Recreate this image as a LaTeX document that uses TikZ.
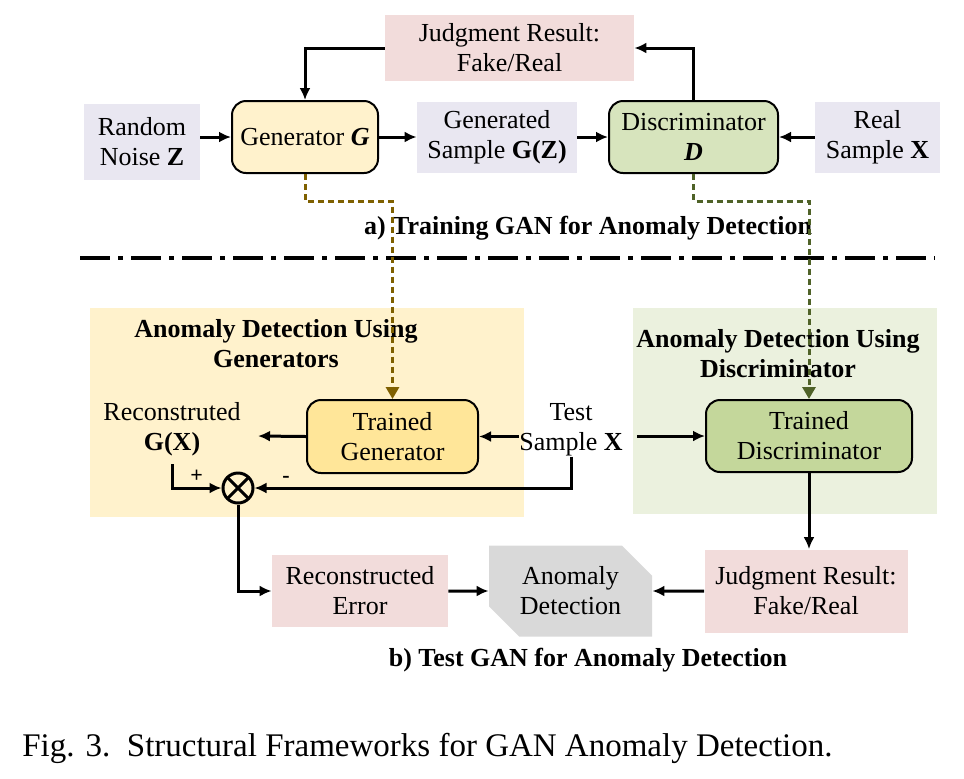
\documentclass[tikz,border=0pt]{standalone}
\usepackage{fontspec}
\setmainfont{Liberation Serif}
\usepackage{tikz}
\usetikzlibrary{shapes,arrows,arrows.meta,positioning}

\definecolor{lavbg}{HTML}{E9E7F1}
\definecolor{pinkbg}{HTML}{F2DCDB}
\definecolor{genfill}{HTML}{FFF2CC}
\definecolor{discfill}{HTML}{D7E4BD}
\definecolor{tgenfill}{HTML}{FFE699}
\definecolor{tdiscfill}{HTML}{C4D79B}
\definecolor{yellowbg}{HTML}{FFF2CC}
\definecolor{greenbg}{HTML}{EBF1DE}
\definecolor{greybg}{HTML}{D9D9D9}
\definecolor{dashbrown}{HTML}{7F6000}
\definecolor{dashgreen}{HTML}{4F6228}

\begin{document}
\begin{tikzpicture}[x=0.5pt,y=-0.5pt]
						\tikzset{align=center,font=\fontsize{13}{15}\selectfont}
						
						\tikzset{plain/.style = {shape=rectangle,inner sep=0pt}}
						
						\tikzset{lavbox/.style = {plain,fill=lavbg}}
						
						\tikzset{pinkbox/.style = {plain,fill=pinkbg}}
						
						\tikzset{roundbox/.style = {plain,draw,line width=1pt,rounded corners=7pt}}
						
						\tikzset{edge/.style = {-{Latex[length=6pt,width=5.5pt]},line width=1.5pt}}
						
						\tikzset{dashedge/.style = {-{Triangle[length=6pt,width=6.5pt]},line width=1.5pt,dash pattern=on 3pt off 2pt}}
						
						\tikzset{sign/.style = {font=\fontsize{11}{11}\selectfont\bfseries,inner sep=2pt}}
						
						\useasboundingbox (0,0) rectangle (964,778);
						
						% groups
						
						\node[plain,fill=yellowbg,minimum width=217pt,minimum height=104.5pt] (groupgen) at (307,412.5) {};
						
						\node[plain,fill=greenbg,minimum width=152pt,minimum height=103pt] (groupdisc) at (785,411) {};
						
						\node[plain,font=\fontsize{13}{15}\selectfont\bfseries] (titlegen) at (276,344) {Anomaly Detection Using\\Generators};
						
						\node[plain,font=\fontsize{13}{15}\selectfont\bfseries] (titledisc) at (778,354) {Anomaly Detection Using\\Discriminator};
						
						% vertices
						
						\node[pinkbox,minimum width=124.5pt,minimum height=33pt] (judgetop) at (509.5,48) {Judgment Result:\\Fake/Real};
						
						\node[lavbox,minimum width=58pt,minimum height=38pt] (noise) at (142,142) {Random\\Noise $\mathbf{Z}$};
						
						\node[roundbox,fill=genfill,minimum width=73pt,minimum height=36pt] (gen) at (305,137) {Generator \textbf{\textit{G}}};
						
						\node[lavbox,minimum width=80pt,minimum height=35.5pt] (gensample) at (497,137) {Generated\\Sample \textbf{G(Z)}};
						
						\node[roundbox,fill=discfill,minimum width=84.5pt,minimum height=36pt] (disc) at (693.5,137) {Discriminator\\\textbf{\textit{D}}};
						
						\node[lavbox,minimum width=62.5pt,minimum height=35.5pt] (realx) at (877.5,137) {Real\\Sample \textbf{X}};
						
						\node[roundbox,fill=tgenfill,minimum width=85.5pt,minimum height=36.5pt] (tgen) at (392.5,436.5) {Trained\\Generator};
						
						\node[roundbox,fill=tdiscfill,minimum width=103pt,minimum height=36pt] (tdisc) at (809,436) {Trained\\Discriminator};
						
						\node[plain] (testx) at (571,430) {Test\\Sample \textbf{X}};
						
						\node[plain,inner sep=4pt] (recon) at (172,429) {Reconstruted\\\textbf{G(X)}};
						
						\coordinate (reconend) at (258,436);
						
						\node[circle,draw,line width=1.5pt,minimum size=15pt,inner sep=0pt,
							path picture={\draw[line width=1.5pt] (path picture bounding box.north west) -- (path picture bounding box.south east)
							(path picture bounding box.north east) -- (path picture bounding box.south west);}] (mult) at (238,488) {};
						
						\node[pinkbox,minimum width=88pt,minimum height=36pt] (recerr) at (360,591) {Reconstructed\\Error};
						
						\node[chamfered rectangle,chamfered rectangle corners={north east,south west},chamfered rectangle xsep=12pt,
							fill=greybg,inner sep=0pt,minimum width=81.5pt,minimum height=45.5pt] (anom) at (570.5,591) {Anomaly\\Detection};
						
						\node[pinkbox,minimum width=101.5pt,minimum height=41.5pt] (judgebot) at (806,591) {Judgment Result:\\Fake/Real};
						
						\node[plain,font=\fontsize{13}{15}\selectfont\bfseries] (titlea) at (588,228) {a) Training GAN for Anomaly Detection};
						
						\node[plain,font=\fontsize{13}{15}\selectfont\bfseries] (titleb) at (588,660) {b) Test GAN for Anomaly Detection};
						
						\node[plain,anchor=west,font=\fontsize{16.5}{19}\selectfont] (caption) at (22,748) {Fig. 3.\ \ Structural Frameworks for GAN Anomaly Detection.};
						
						\coordinate (sepl) at (80,258);
						
						\coordinate (sepr) at (935,258);
						
						%edges
						
						\draw[line width=2pt,dash pattern=on 15pt off 4pt on 2.5pt off 4pt] (sepl) -- (sepr);
						
						\draw[edge] (noise.east |- gen.west) -- (gen.west);
						\draw[edge] (gen) -- (gensample);
						\draw[edge] (gensample) -- (disc);
						\draw[edge] (realx) -- (disc);
						\draw[edge] (disc.north) |- (judgetop.east);
						\draw[edge] (judgetop.west) -| (gen.north);
						
						\draw[dashedge,draw=dashbrown] (gen.south) -- ++(0,27) -| (tgen.north);
						\draw[dashedge,draw=dashgreen] (disc.south) -- ++(0,27) -| (tdisc.north);
						
						\draw[edge] (tgen.east -| testx.west) -- (tgen.east);
						\draw[edge,shorten <=7pt] (tdisc.west -| testx.east) -- (tdisc.west);
						\draw[edge] (tgen.west) -- (reconend);
						\draw[edge] (recon.south) |- (mult.west) node[sign,pos=0.75,above] {+};
						\draw[edge] (testx.south) |- (mult.east) node[sign,pos=0.95,above] {-};
						\draw[edge] (mult.south) |- (recerr.west);
						\draw[edge] (recerr) -- (anom);
						\draw[edge] (judgebot) -- (anom);
						\draw[edge] (tdisc.south) -- (tdisc.south |- judgebot.north);
				\end{tikzpicture}
\end{document}
